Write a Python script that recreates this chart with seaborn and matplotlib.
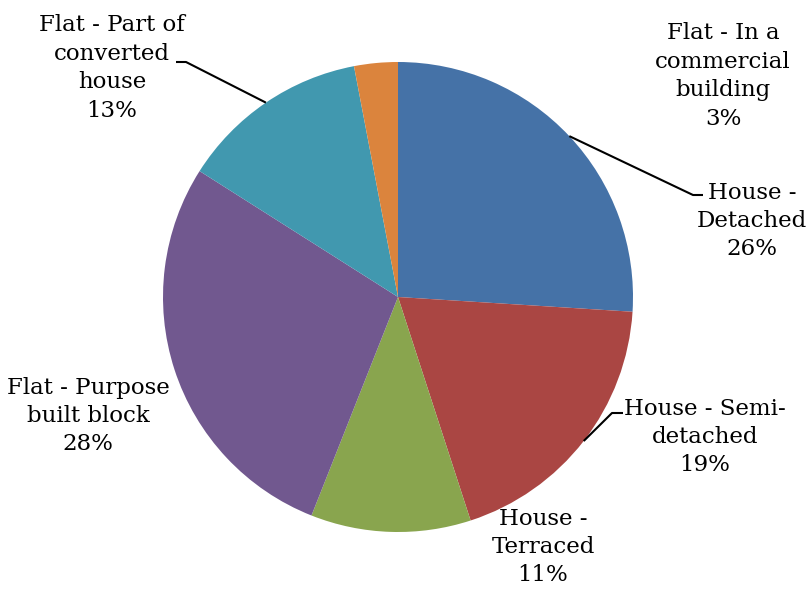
import numpy as np
import matplotlib
matplotlib.use("Agg")
import matplotlib.pyplot as plt
import seaborn as sns

# Dwelling types and their shares (%)
categories = [
    "House -\nDetached",
    "House - Semi-\ndetached",
    "House -\nTerraced",
    "Flat - Purpose\nbuilt block",
    "Flat - Part of\nconverted\nhouse",
    "Flat - In a\ncommercial\nbuilding",
]
shares = [26, 19, 11, 28, 13, 3]
colors = ["#4572A7", "#AA4643", "#89A54E", "#71588F", "#4198AF", "#DB843D"]

sns.set_theme(style="white")
plt.rcParams["font.family"] = ["DejaVu Serif"]

W, H = 808, 592
fig = plt.figure(figsize=(W / 100, H / 100), dpi=100)
ax = fig.add_axes([0, 0, 1, 1])

cx, cy, r = 398, H - 297, 235
wedges, _ = ax.pie(
    shares,
    colors=colors,
    startangle=90,
    counterclock=False,
    radius=r,
    center=(cx, cy),
    wedgeprops=dict(linewidth=0),
    frame=True,
)
ax.set_xlim(0, W)
ax.set_ylim(0, H)
ax.set_axis_off()
ax.set_aspect("equal")

# label anchor (centre of the text block) in pixels from top-left, plus optional leader elbow
label_pos = [
    ((752, 221), (693, 195), (703, 195)),
    ((705, 437), (612, 413), (623, 413)),
    ((543, 547), None, None),
    ((88, 416), None, None),
    ((112, 68), (186, 62), (176, 62)),
    ((723, 76), None, None),
]

cum = np.cumsum([0] + shares[:-1])
total = sum(shares)
for cat, val, c0, (pos, elbow, tail) in zip(categories, shares, cum, label_pos):
    ax.text(pos[0], H - pos[1], f"{cat}\n{val}%", ha="center", va="center",
            multialignment="center", fontsize=16.5, color="black", linespacing=1.38)
    if elbow is not None:
        ang = np.deg2rad(90 - (c0 + val / 2) / total * 360)
        x0, y0 = cx + r * np.cos(ang), cy + r * np.sin(ang)
        ax.plot([x0, elbow[0], tail[0]], [y0, H - elbow[1], H - tail[1]],
                color="black", lw=1.5, solid_capstyle="butt")

fig.savefig("out.png", dpi=100, facecolor="white")
